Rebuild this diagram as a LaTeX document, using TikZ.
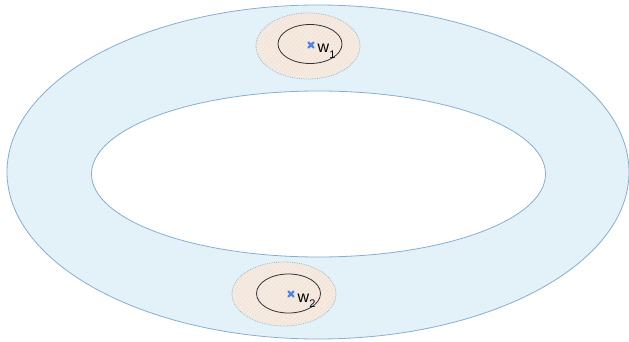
\documentclass[tikz,border=0pt]{standalone}
\usepackage{fontspec}
\setmainfont{Liberation Sans}
\usetikzlibrary{patterns.meta,calc}
\definecolor{ringfill}{HTML}{E3F2F8}
\definecolor{ringline}{HTML}{86AED3}
\definecolor{patchfill}{HTML}{F3ECE5}
\definecolor{patchhatch}{HTML}{F9E1CF}
\definecolor{patchline}{HTML}{9FB3C6}
\definecolor{crossblue}{HTML}{4F86E6}
\tikzset{
  x=1pt, y=-1pt,
  ring/.style={draw=ringline, line width=0.8pt},
  patch/.style={draw=patchline, densely dotted, line width=0.8pt, fill=patchfill},
  hatch/.style={pattern={Lines[angle=45,distance=3pt,line width=0.8pt]}, pattern color=patchhatch},
  disk/.style={draw=black!80, line width=0.8pt},
  cross/.style={draw=crossblue, line width=2.4pt, line cap=round},
  lbl/.style={font=\fontsize{16}{16}\selectfont, inner sep=0pt, anchor=base west}
}
\newcommand{\wsub}[1]{w\raisebox{-0.35em}{\fontsize{11}{11}\selectfont #1}}
\begin{document}
\begin{tikzpicture}
\useasboundingbox (0,0) rectangle (629,342);
% annulus
\path[ring, fill=ringfill, even odd rule]
  (318,172) ellipse [x radius=311, y radius=167]
  (318.5,174) ellipse [x radius=227, y radius=83];
% upper patch
\path[patch] (308,46) ellipse [x radius=52, y radius=33];
\path[hatch] (308,46) ellipse [x radius=51, y radius=32];
\draw[disk] (310,44) ellipse [x radius=32, y radius=19.5];
\coordinate (p1) at (311,45);
\draw[cross] ($(p1)+(-2.5,-2.5)$) -- ($(p1)+(2.5,2.5)$) ($(p1)+(-2.5,2.5)$) -- ($(p1)+(2.5,-2.5)$);
\node[lbl] (w1) at (317.5,53) {\wsub{1}};
% lower patch
\path[patch] (284,294) ellipse [x radius=52, y radius=32];
\path[hatch] (284,294) ellipse [x radius=51, y radius=31];
\draw[disk] (288.5,293.5) ellipse [x radius=32, y radius=19.5];
\coordinate (p2) at (291,294);
\draw[cross] ($(p2)+(-2.5,-2.5)$) -- ($(p2)+(2.5,2.5)$) ($(p2)+(-2.5,2.5)$) -- ($(p2)+(2.5,-2.5)$);
\node[lbl] (w2) at (297.5,302) {\wsub{2}};
\end{tikzpicture}
\end{document}
